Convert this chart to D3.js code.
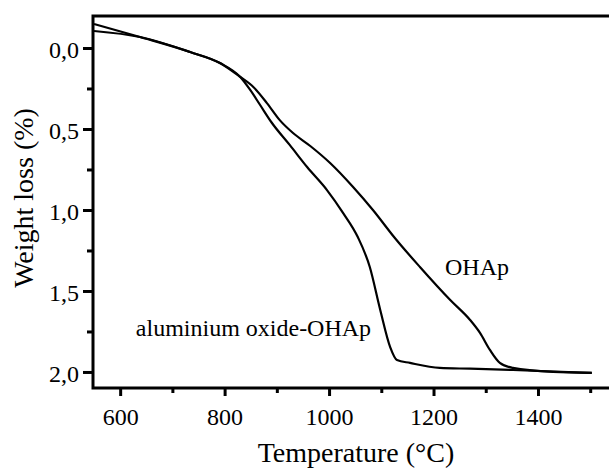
<!DOCTYPE html>
<html><head><meta charset="utf-8">
<script src="https://cdn.jsdelivr.net/npm/d3@7"></script>
<style>body{margin:0;background:#fff}svg{display:block}</style>
</head><body><svg id="c" width="609" height="472"></svg>
<script>
// Data (temperature °C, weight loss %)
const aluminaT = [550,638,734,791,830,849,868,890,925,958,996,1027,1055,1078,1098,1117,1130,1155,1212,1270,1352,1503];
const aluminaW = [-0.105,-0.068,0.025,0.093,0.179,0.259,0.352,0.460,0.600,0.735,0.877,1.019,1.167,1.352,1.617,1.846,1.926,1.944,1.975,1.980,1.988,2.006];
const ohapT = [550,638,734,791,830,855,881,906,931,964,1002,1046,1084,1126,1174,1232,1270,1289,1308,1327,1352,1429,1503];
const ohapW = [-0.148,-0.068,0.025,0.093,0.179,0.241,0.340,0.447,0.525,0.605,0.710,0.858,1.0,1.173,1.352,1.556,1.679,1.759,1.864,1.944,1.975,2.0,2.006];
const xTicks = [600,800,1000,1200,1400];
const xMinor = [700,900,1100,1300,1500];
const yTicks = [0,0.5,1.0,1.5,2.0];
const yMinor = [0.25,0.75,1.25,1.75];
const yTickLabels = ["0,0","0,5","1,0","1,5","2,0"];
const seriesLabels = [{name:"aluminium oxide-OHAp",T:630,W:1.78},{name:"OHAp",T:1222,W:1.401}];

const FONT = "Liberation Serif";
const svg = d3.select("#c");
const L=93, R=609, T=16, B=388;
const x = d3.scaleLinear().domain([548,1536]).range([L,R]);
const y = d3.scaleLinear().domain([-0.1975,2.099]).range([T,B]);

const gx = svg.append("g").attr("transform",`translate(0,${B})`)
  .call(d3.axisBottom(x).tickValues(xTicks).tickSize(8).tickPadding(12).tickFormat(d3.format("d")));
const gxm = svg.append("g").attr("transform",`translate(0,${B})`)
  .call(d3.axisBottom(x).tickValues(xMinor).tickSize(5).tickFormat(""));
const gy = svg.append("g").attr("transform",`translate(${L},0)`)
  .call(d3.axisLeft(y).tickValues(yTicks).tickSize(10).tickPadding(4).tickFormat((d,i)=>yTickLabels[i]));
const gym = svg.append("g").attr("transform",`translate(${L},0)`)
  .call(d3.axisLeft(y).tickValues(yMinor).tickSize(6).tickFormat(""));
[gx,gxm,gy,gym].forEach(g=>{
  g.attr("font-family",FONT).attr("font-size",24);
  g.select(".domain").remove();
  g.selectAll(".tick line").attr("stroke","#000").attr("stroke-width",3);
  g.selectAll(".tick text").attr("font-family",FONT).style("font-family",FONT).style("font-size","24px").attr("fill","#000");
});
gy.selectAll(".tick text").attr("dy","0.4em");
gx.selectAll(".tick text").attr("dy","0.71em");

svg.append("path").attr("d",`M${R},${T}H${L}V${B}H${R}`).attr("fill","none").attr("stroke","#000").attr("stroke-width",3);

const line = d3.line().x(d=>x(d[0])).y(d=>y(d[1])).curve(d3.curveMonotoneX);
const al = aluminaT.map((t,i)=>[t,aluminaW[i]]);
const oh = ohapT.map((t,i)=>[t,ohapW[i]]);
[al,oh].forEach(d=>svg.append("path").datum(d).attr("d",line).attr("fill","none").attr("stroke","#000").attr("stroke-width",2.2));

function txt(){ return svg.append("text").attr("font-family",FONT).style("font-family",FONT).attr("fill","#000"); }
seriesLabels.forEach(s=>txt().attr("x",x(s.T)).attr("y",y(s.W)).style("font-size","24px").text(s.name));
txt().attr("x",356).attr("y",462).attr("text-anchor","middle").style("font-size","28px").text("Temperature (°C)");
txt().attr("transform","translate(33,198) rotate(-90)").attr("text-anchor","middle").style("font-size","28px").text("Weight loss (%)");
</script></body></html>
